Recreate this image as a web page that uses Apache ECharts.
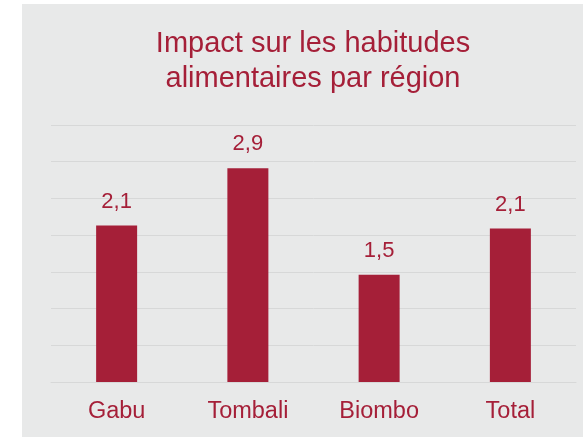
<!DOCTYPE html>
<html>
<head>
<meta charset="utf-8">
<title>Impact sur les habitudes alimentaires par région</title>
<script src="https://cdn.jsdelivr.net/npm/echarts@6/dist/echarts.min.js"></script>
<style>
    html, body { margin: 0; padding: 0; background: #fff; }
    #chart { width: 583px; height: 437px; }
</style>
</head>
<body>
<div id="chart"></div>
<script>
// données
var regions = ['Gabu', 'Tombali', 'Biombo', 'Total'];
var scores = [2.13, 2.91, 1.46, 2.09];
var axisMin = 0;
var axisMax = 3.5;
var axisStep = 0.5;

var crimson = '#A51F38';
var gridColor = '#D7D8D8';
var font = '"Liberation Sans", Arial, sans-serif';

var myChart = echarts.init(document.getElementById('chart'));

var option = {
    animation: false,
    backgroundColor: '#fff',
    // panneau gris derrière le graphique
    graphic: [{
        type: 'rect',
        silent: true,
        z: -10,
        shape: { x: 22, y: 4, width: 561, height: 433 },
        style: { fill: '#E8E9E9' }
    }],
    title: {
        text: 'Impact sur les habitudes\nalimentaires par région',
        left: 313,
        top: 26,
        textAlign: 'center',
        padding: 0,
        textStyle: {
            color: crimson,
            fontFamily: font,
            fontSize: 29,
            fontWeight: 'normal',
            lineHeight: 35
        }
    },
    grid: {
        left: 51,
        right: 7,
        top: 125,
        bottom: 55,
        containLabel: false
    },
    xAxis: {
        type: 'category',
        data: regions,
        axisTick: { show: false },
        axisLine: { lineStyle: { color: gridColor, width: 1 } },
        axisLabel: {
            color: crimson,
            fontFamily: font,
            fontSize: 23.5,
            margin: 18
        }
    },
    yAxis: {
        type: 'value',
        min: axisMin,
        max: axisMax,
        interval: axisStep,
        axisLabel: { show: false },
        axisLine: { show: false },
        axisTick: { show: false },
        splitLine: { lineStyle: { color: gridColor, width: 1 } }
    },
    series: [{
        type: 'bar',
        data: scores,
        barWidth: 41,
        itemStyle: { color: crimson },
        label: {
            show: true,
            position: 'top',
            distance: 13,
            color: crimson,
            fontFamily: font,
            fontSize: 22,
            formatter: function (p) {
                return p.value.toFixed(1).replace('.', ',');
            }
        }
    }]
};

myChart.setOption(option);
</script>
</body>
</html>
